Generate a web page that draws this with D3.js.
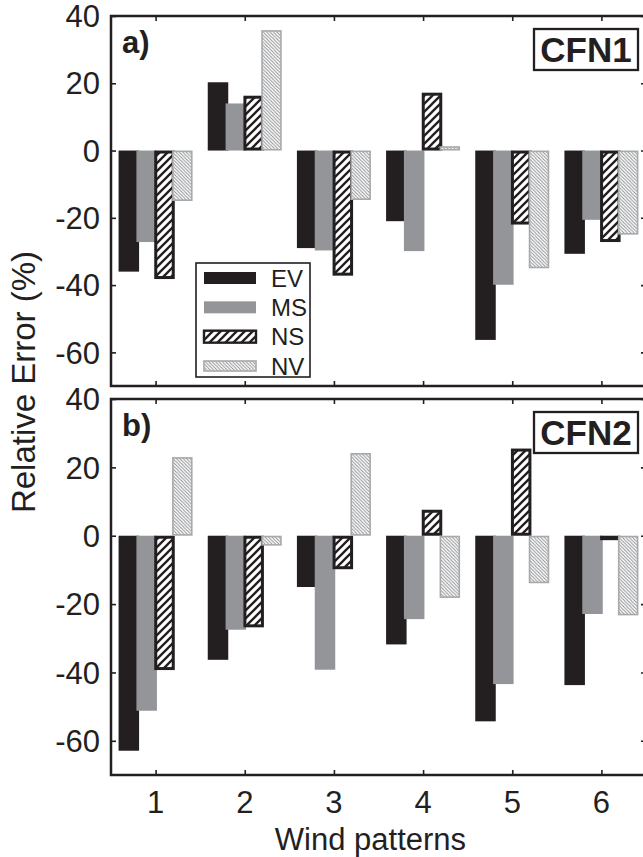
<!DOCTYPE html>
<html>
<head>
<meta charset="utf-8">
<script src="https://d3js.org/d3.v7.min.js"></script>
<style>
body { margin: 0; background: #fff; }
svg { display: block; }
text { font-family: "Liberation Sans", Arial, sans-serif; fill: #231f20; }
</style>
</head>
<body>
<svg width="643" height="857"></svg>
<script>

// wind patterns on the x axis
let patterns = [1, 2, 3, 4, 5, 6];
let series = ["EV", "MS", "NS", "NV"];
let yTicks = [-60, -40, -20, 0, 20, 40];

// relative error (%), one array per series
let cfn1EV = [-36, 20.3, -29, -21, -56.3, -30.7];
let cfn1MS = [-27.2, 14, -29.7, -29.9, -39.9, -20.6];
let cfn1NS = [-38.2, 16.3, -37.2, 17.2, -22, -27.2];
let cfn1NV = [-15, 35.8, -14.7, 1.3, -35, -25];

let cfn2EV = [-62.9, -36.3, -15, -31.8, -54.3, -43.7];
let cfn2MS = [-51.2, -27.5, -39.2, -24.4, -43.4, -22.9];
let cfn2NS = [-39.3, -26.8, -9.8, 7.6, 25.5, -1.3];
let cfn2NV = [23, -2.9, 24.2, -18.2, -13.9, -23.3];

let panels = [
  {tag: "a)", name: "CFN1", top: 16, bottom: 386, values: [cfn1EV, cfn1MS, cfn1NS, cfn1NV]},
  {tag: "b)", name: "CFN2", top: 399, bottom: 775, values: [cfn2EV, cfn2MS, cfn2NS, cfn2NV]}
];

let dark = "#231f20";
let grey = "#939598";
let light = "#a7a9ac";

let svg = d3.select("svg");
let left = 111, right = 646;

let x = d3.scaleLinear().domain([0.5, 6.5]).range([left, right]);
let offsets = [-0.3, -0.1, 0.1, 0.3];
let barW = 0.23;

// hatch fills
let defs = svg.append("defs");
let ns = defs.append("pattern")
    .attr("id", "hatchNS")
    .attr("patternUnits", "userSpaceOnUse")
    .attr("width", 8).attr("height", 8);
ns.append("rect").attr("width", 8).attr("height", 8).attr("fill", "#fff");
ns.append("path")
    .attr("d", "M-1,1 L1,-1 M0,8 L8,0 M7,9 L9,7")
    .attr("stroke", dark)
    .attr("stroke-width", 2.3);

let nv = defs.append("pattern")
    .attr("id", "hatchNV")
    .attr("patternUnits", "userSpaceOnUse")
    .attr("width", 3.4).attr("height", 3.4);
nv.append("rect").attr("width", 3.4).attr("height", 3.4).attr("fill", "#fff");
nv.append("path")
    .attr("d", "M-1,-1 L4.4,4.4 M-1,2.4 L1,4.4 M2.4,-1 L4.4,1")
    .attr("stroke", "#8e9093")
    .attr("stroke-width", 1);

function styleBar(sel, s) {
  if (s == 0) sel.attr("fill", dark);
  if (s == 1) sel.attr("fill", grey);
  if (s == 2) sel.attr("fill", "url(#hatchNS)").attr("stroke", dark).attr("stroke-width", 3);
  if (s == 3) sel.attr("fill", "url(#hatchNV)").attr("stroke", light).attr("stroke-width", 1.6);
}

function drawPanel(p) {
  let y = d3.scaleLinear().domain([-70, 40]).range([p.bottom, p.top]);
  let g = svg.append("g");

  p.values.forEach(function(vals, s) {
    let inset = s == 2 ? 1.5 : (s == 3 ? 0.8 : 0);
    let bars = g.selectAll(".bar" + s)
      .data(vals)
      .enter().append("rect")
        .attr("class", "bar" + s)
        .attr("x", function(d, i) { return x(patterns[i] + offsets[s] - barW / 2) + inset; })
        .attr("width", x(barW) - x(0) - 2 * inset)
        .attr("y", function(d) { return Math.min(y(d), y(0)) + inset; })
        .attr("height", function(d) { return Math.max(Math.abs(y(d) - y(0)) - 2 * inset, 0.5); });
    styleBar(bars, s);
  });

  // ticks inside on all four sides
  let axL = d3.axisRight(y).tickValues(yTicks).tickSize(5).tickFormat("");
  let axR = d3.axisLeft(y).tickValues(yTicks).tickSize(5).tickFormat("");
  let axB = d3.axisTop(x).tickValues(patterns).tickSize(5).tickFormat("");
  let axT = d3.axisBottom(x).tickValues(patterns).tickSize(5).tickFormat("");
  g.append("g").attr("transform", "translate(" + left + ",0)").call(axL);
  g.append("g").attr("transform", "translate(" + right + ",0)").call(axR);
  g.append("g").attr("transform", "translate(0," + p.bottom + ")").call(axB);
  g.append("g").attr("transform", "translate(0," + p.top + ")").call(axT);
  g.selectAll(".domain").remove();
  g.selectAll(".tick line").attr("stroke", dark).attr("stroke-width", 1.6);

  g.append("rect")
    .attr("x", left).attr("y", p.top)
    .attr("width", right - left).attr("height", p.bottom - p.top)
    .attr("fill", "none").attr("stroke", dark).attr("stroke-width", 2.5);

  g.selectAll(".ylab")
    .data(yTicks)
    .enter().append("text")
      .attr("x", left - 11)
      .attr("y", function(d) { return y(d); })
      .attr("dy", "0.36em")
      .attr("text-anchor", "end")
      .attr("font-size", 31)
      .text(function(d) { return d; });

  g.append("text")
    .attr("x", 122).attr("y", p.top + 37)
    .attr("font-size", 31).attr("font-weight", "bold")
    .text(p.tag);

  g.append("rect")
    .attr("x", 534).attr("y", p.top + 13)
    .attr("width", 104).attr("height", 41)
    .attr("fill", "#fff").attr("stroke", dark).attr("stroke-width", 2.3);
  g.append("text")
    .attr("x", 586).attr("y", p.top + 46)
    .attr("text-anchor", "middle")
    .attr("font-size", 35).attr("font-weight", "bold")
    .text(p.name);
}

panels.forEach(drawPanel);

// legend in panel a
let leg = svg.append("g");
leg.append("rect")
  .attr("x", 196).attr("y", 263)
  .attr("width", 114).attr("height", 114)
  .attr("fill", "#fff").attr("stroke", dark).attr("stroke-width", 1.6);
let rowY = d3.scalePoint().domain(series).range([278, 366]);
series.forEach(function(name, s) {
  let h = s == 3 ? 10 : 12;
  let sw = leg.append("rect")
    .attr("x", 204).attr("y", rowY(name) - h / 2)
    .attr("width", 52).attr("height", h);
  styleBar(sw, s);
  if (s == 2) sw.attr("stroke-width", 2.4);
  leg.append("text")
    .attr("x", 271).attr("y", rowY(name))
    .attr("dy", "0.36em")
    .attr("font-size", 24)
    .text(name);
});

// shared axis titles
svg.selectAll(".xlab")
  .data(patterns)
  .enter().append("text")
    .attr("x", function(d) { return x(d); })
    .attr("y", 813)
    .attr("text-anchor", "middle")
    .attr("font-size", 31)
    .text(function(d) { return d; });

svg.append("text")
  .attr("x", (left + 646) / 2 - 8).attr("y", 850)
  .attr("text-anchor", "middle")
  .attr("font-size", 31)
  .text("Wind patterns");

svg.append("text")
  .attr("transform", "translate(35,382) rotate(-90)")
  .attr("text-anchor", "middle")
  .attr("font-size", 33)
  .text("Relative Error (%)");

</script>
</body>
</html>
